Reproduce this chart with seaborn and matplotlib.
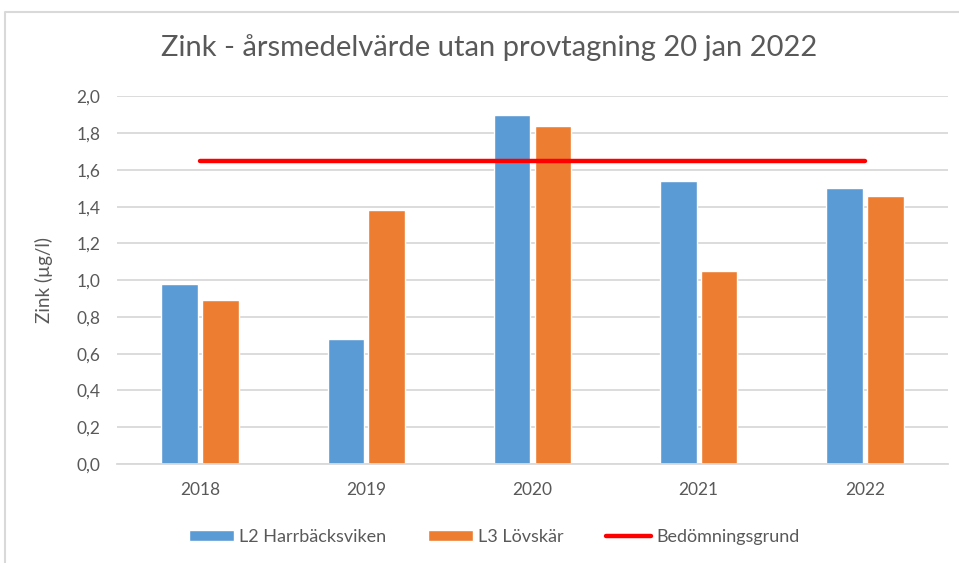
import numpy as np
import pandas as pd
import matplotlib
matplotlib.use('Agg')
import matplotlib.pyplot as plt
from matplotlib.patches import Patch
from matplotlib.lines import Line2D
from matplotlib.ticker import FuncFormatter
import seaborn as sns

years = ['2018', '2019', '2020', '2021', '2022']
l2_harrbacksviken = [0.98, 0.68, 1.90, 1.54, 1.50]
l3_lovskar = [0.89, 1.38, 1.84, 1.05, 1.46]
bedomningsgrund = [1.65, 1.65, 1.65, 1.65, 1.65]

series_names = ['L2 Harrbäcksviken', 'L3 Lövskär']
colors = ['#5B9BD5', '#ED7D31']
text_color = '#595959'
grid_color = '#D9D9D9'

sns.set_style('white')
plt.rcParams['font.family'] = ['Lato', 'DejaVu Sans']

df = pd.DataFrame({
    'year': years * 2,
    'value': l2_harrbacksviken + l3_lovskar,
    'station': [series_names[0]] * len(years) + [series_names[1]] * len(years),
})

fig = plt.figure(figsize=(9.59, 5.63), dpi=100)
ax = fig.add_axes([117 / 959, 1 - 464 / 563, 831 / 959, 367.6 / 563])

sns.barplot(data=df, x='year', y='value', hue='station', palette=colors,
            width=0.49, gap=0.1, ax=ax, legend=False, saturation=1)
ax.plot(range(len(years)), bedomningsgrund, color='#FF0000', lw=3.2,
        solid_capstyle='round', zorder=4)

ax.set_ylim(0, 2.0)
ax.set_xlim(-0.5, len(years) - 0.5)
ax.set_yticks(np.arange(0, 2.01, 0.2))
ax.yaxis.set_major_formatter(FuncFormatter(lambda v, p: f'{v:.1f}'.replace('.', ',')))
ax.grid(axis='y', color=grid_color, lw=1.3)
ax.set_axisbelow(True)
for s in ['top', 'right', 'left']:
    ax.spines[s].set_visible(False)
ax.spines['bottom'].set_color(grid_color)
ax.spines['bottom'].set_linewidth(1.3)
ax.tick_params(axis='both', length=0, labelsize=12.5, labelcolor=text_color)
ax.tick_params(axis='x', pad=13)
ax.tick_params(axis='y', pad=12)
ax.set_xlabel('')
ax.set_ylabel('Zink (µg/l)', fontsize=13.5, color=text_color)
ax.yaxis.set_label_coords(-0.077, 0.5)

fig.text(489 / 959, 1 - 48 / 563, 'Zink - årsmedelvärde utan provtagning 20 jan 2022',
         ha='center', va='center', fontsize=21, color=text_color)

handles = [Patch(facecolor=colors[0], label=series_names[0]),
           Patch(facecolor=colors[1], label=series_names[1]),
           Line2D([0], [0], color='#FF0000', lw=3.2, solid_capstyle='round',
                  label='Bedömningsgrund')]
leg = fig.legend(handles=handles, loc='center', bbox_to_anchor=(494 / 959, 1 - 537 / 563),
                 ncol=3, frameon=False, fontsize=13, handlelength=2.5,
                 handleheight=0.6, handletextpad=0.3, columnspacing=2.3)
for t in leg.get_texts():
    t.set_color(text_color)

# chart-area border (only top and left visible in the crop)
fig.add_artist(Line2D([5 / 959, 5 / 959, 1], [0, 1 - 12 / 563, 1 - 12 / 563],
                      transform=fig.transFigure, color=grid_color, lw=1.5))

fig.savefig('out.png', dpi=100)
